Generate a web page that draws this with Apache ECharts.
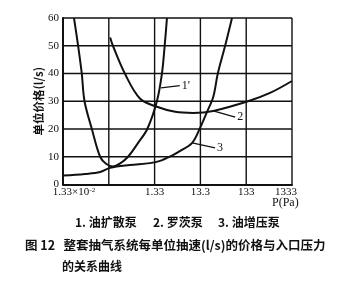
<!DOCTYPE html>
<html>
<head>
<meta charset="utf-8">
<script src="https://cdn.jsdelivr.net/npm/echarts@6/dist/echarts.min.js"></script>
<style>
html,body{margin:0;padding:0;background:#fff;}
#c{width:350px;height:287px;}
</style>
</head>
<body>
<div id="c"></div>
<script>
// x values are decades above 1.33×10^-2 Pa, i.e. log10(P / 0.0133)
const tickLabels = ['1.33×10^-2', '', '1.33', '13.3', '133', '1333'];
const xTicks = [0, 1, 2, 3, 4, 5];
const yTicks = [0, 10, 20, 30, 40, 50, 60];

// 1. 油扩散泵
const diffX = [0.24, 0.33, 0.41, 0.47, 0.63, 0.81, 0.94, 1.09, 1.24, 1.42, 1.64, 1.84, 2.05, 2.16, 2.22, 2.27];
const diffY = [60, 50, 40, 30, 20, 10, 7.5, 6.5, 7.5, 10, 15, 20, 30, 40, 50, 60];

// 2. 罗茨泵
const rootsX = [1.03, 1.09, 1.35, 1.68, 2.05, 2.45, 2.84, 3.28, 4.04, 4.52, 5.0];
const rootsY = [53, 50, 40, 31, 28, 26.2, 25.8, 26.5, 30, 33, 37.3];

// 3. 油增压泵
const boostX = [0, 0.48, 0.81, 1.03, 1.46, 1.90, 2.12, 2.40, 2.55, 2.82, 2.99, 3.14, 3.28, 3.38, 3.54, 3.69];
const boostY = [3.2, 3.8, 4.5, 6.0, 7.0, 7.7, 8.5, 10.6, 12, 15, 20.3, 26, 31.5, 40, 50, 60];

// curve callouts
const calloutNames = ["1'", '2', '3'];
const calloutX = [[2.14, 2.55], [3.28, 3.76], [2.82, 3.32]];
const calloutY = [[34.8, 35.6], [26.5, 24.3], [15.0, 13.2]];

const legendItems = ['1. 油扩散泵', '2. 罗茨泵', '3. 油增压泵'];
const captionLine1 = '图 12   整套抽气系统每单位抽速(l/s)的价格与入口压力';
const captionLine2 = '的关系曲线';
const yName = '单位价格(l/s)';
const xName = 'P(Pa)';

const zip = (xs, ys) => xs.map((x, i) => [x, ys[i]]);
const serif = '"Liberation Serif", "DejaVu Serif", serif';
const cjk = '"Noto Sans CJK SC", sans-serif';
const ink = '#111';

const xMin = xTicks[0], xMax = xTicks[xTicks.length - 1];
const yMin = yTicks[0], yMax = yTicks[yTicks.length - 1];

const series = [];
// grid lines, drawn through the axes' scales
xTicks.slice(1).forEach(v => series.push({
  type: 'line', symbol: 'none', silent: true, z: 1, clip: false,
  lineStyle: {color: ink, width: 1.4}, data: [[v, yMin], [v, yMax]]
}));
yTicks.slice(1).forEach(v => series.push({
  type: 'line', symbol: 'none', silent: true, z: 1, clip: false,
  lineStyle: {color: ink, width: 1.4}, data: [[xMin, v], [xMax, v]]
}));

const curveStyle = {color: ink, width: 2};
series.push(
  {name: legendItems[0], type: 'line', smooth: 0.35, symbol: 'none', lineStyle: curveStyle, data: zip(diffX, diffY), z: 5},
  {name: legendItems[1], type: 'line', smooth: 0.35, symbol: 'none', lineStyle: curveStyle, data: zip(rootsX, rootsY), z: 5},
  {name: legendItems[2], type: 'line', smooth: 0.35, symbol: 'none', lineStyle: curveStyle, data: zip(boostX, boostY), z: 5}
);
calloutNames.forEach((n, i) => {
  series.push({
    name: 'callout ' + n, type: 'line', symbol: 'none', silent: true, z: 6,
    lineStyle: {color: ink, width: 1.3},
    endLabel: {show: true, formatter: n, distance: 2, fontFamily: serif, fontSize: 12, color: ink},
    data: zip(calloutX[i], calloutY[i])
  });
});

const chart = echarts.init(document.getElementById('c'), null, {renderer: 'canvas'});
chart.setOption({
  backgroundColor: '#fff',
  animation: false,
  grid: {left: 63, top: 18, width: 229, height: 166.5, containLabel: false, show: false},
  xAxis: {
    type: 'value', min: xMin, max: xMax, interval: 1,
    name: xName, nameLocation: 'end', nameGap: -20, nameMoveOverlap: false,
    nameTextStyle: {fontFamily: serif, fontSize: 12, color: ink, verticalAlign: 'top', padding: [12, 0, 0, 0]},
    axisLine: {show: true, onZero: false, lineStyle: {color: ink, width: 2}},
    axisTick: {show: false},
    splitLine: {show: false},
    axisLabel: {
      margin: 2, fontFamily: serif, fontSize: 11, color: ink,
      formatter: function (v) {
        const i = Math.round(v);
        const s = tickLabels[i] || '';
        if (s.indexOf('^') >= 0) {
          const p = s.split('^');
          return '{b|' + p[0] + '}{s|' + p[1] + '}';
        }
        if (i === tickLabels.length - 1) return '{e|' + s + '}';
        return s;
      },
      rich: {
        b: {fontFamily: serif, fontSize: 11, color: ink, padding: [0, 0, 0, 22]},
        s: {fontFamily: serif, fontSize: 7, color: ink, verticalAlign: 'top', padding: [0, 0, 5, 0]},
        e: {fontFamily: serif, fontSize: 11, color: ink, padding: [0, 12, 0, 0]}
      }
    }
  },
  yAxis: {
    type: 'value', min: yMin, max: yMax, interval: 10,
    name: yName, nameLocation: 'middle', nameGap: 19, nameRotate: 90, nameMoveOverlap: false,
    nameTextStyle: {fontFamily: cjk, fontSize: 11.5, fontWeight: 'bold', color: ink},
    axisLine: {show: true, lineStyle: {color: ink, width: 2}},
    axisTick: {show: false},
    splitLine: {show: false},
    axisLabel: {margin: 4, fontFamily: serif, fontSize: 11, color: ink}
  },
  graphic: [
    {type: 'text', left: 75, top: 216, style: {text: legendItems[0], font: 'bold 12px ' + cjk, fill: ink}},
    {type: 'text', left: 153, top: 216, style: {text: legendItems[1], font: 'bold 12px ' + cjk, fill: ink}},
    {type: 'text', left: 218, top: 216, style: {text: legendItems[2], font: 'bold 12px ' + cjk, fill: ink}},
    {type: 'text', left: 25, top: 239, style: {text: captionLine1, font: 'bold 12.5px ' + cjk, fill: ink}},
    {type: 'text', left: 62, top: 260, style: {text: captionLine2, font: 'bold 12px ' + cjk, fill: ink}}
  ],
  series: series
});
</script>
</body>
</html>
